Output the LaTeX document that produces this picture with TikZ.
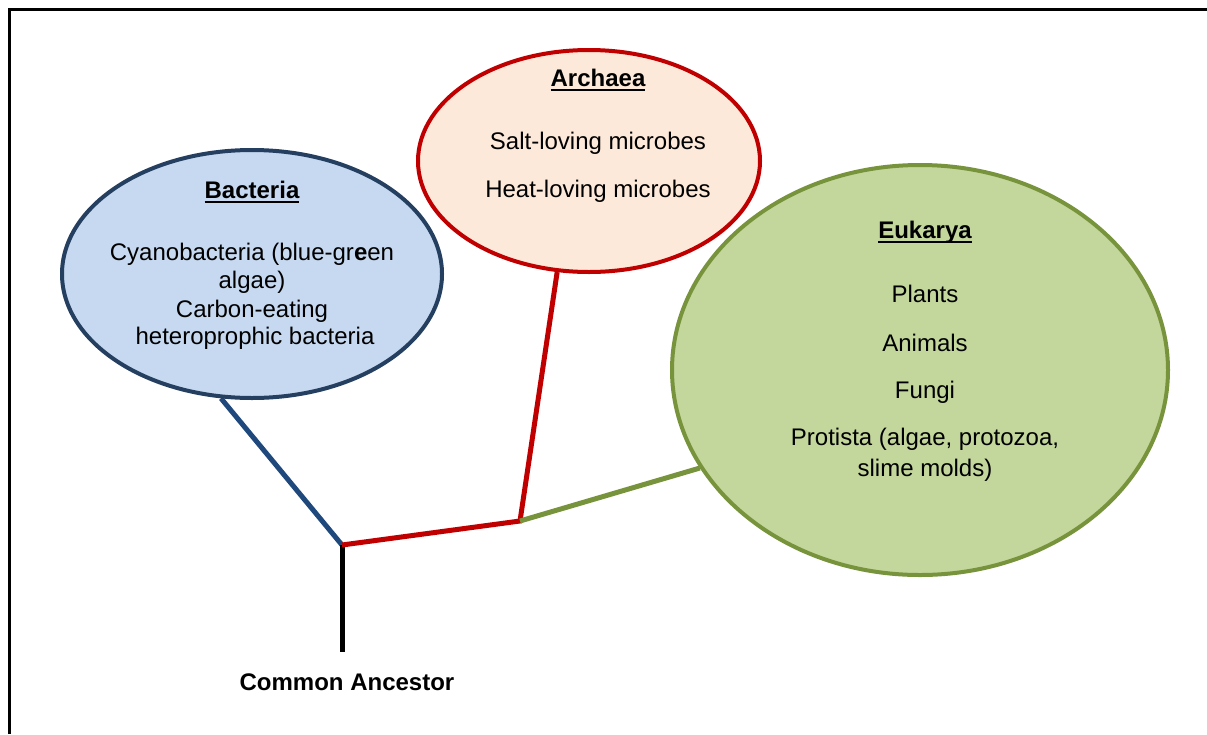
\documentclass[tikz,border=0pt]{standalone}
\usepackage{fontspec}
\setmainfont{Liberation Sans}
\usetikzlibrary{shapes.geometric,backgrounds}
\definecolor{bactfill}{HTML}{C6D9F1}
\definecolor{bactline}{HTML}{243F60}
\definecolor{bluebranch}{HTML}{1F497D}
\definecolor{archfill}{HTML}{FDE9D9}
\definecolor{archline}{HTML}{C00000}
\definecolor{eukfill}{HTML}{C3D69B}
\definecolor{eukline}{HTML}{77933C}
\newcommand\myul[1]{\setbox0\hbox{#1}\rlap{\rule[-5pt]{\wd0}{1.8pt}}\box0}
\begin{document}
\begin{tikzpicture}[x=1pt,y=-1pt,
  lifedomain/.style={ellipse, line width=4pt, inner sep=0pt},
  txt/.style={anchor=base, inner sep=0pt, font=\fontsize{24}{28}\selectfont},
  branch/.style={line width=5pt}]
\useasboundingbox (0,0) rectangle (1207,734);
\draw[line width=3pt] (9.5,734) -- (9.5,9) -- (1207,9);

\node[lifedomain, draw=bactline, fill=bactfill, minimum width=380pt, minimum height=248pt] (bact) at (252,274) {};
\node[lifedomain, draw=archline, fill=archfill, minimum width=342pt, minimum height=222pt] (arch) at (589,161) {};
\node[lifedomain, draw=eukline, fill=eukfill, minimum width=496pt, minimum height=410pt] (euk) at (920,370) {};

\coordinate (j1) at (342,545);
\coordinate (j2) at (520,521);
\coordinate (root) at (342,652);

\begin{scope}[on background layer]
\draw[branch, bluebranch] (bact.256) -- (j1);
\draw[branch, black] (j1) -- (root);
\draw[branch, archline] (j1) -- (j2) -- (arch.254);
\draw[branch, eukline] (j2) -- (euk.204);
\end{scope}

\node[txt] (bt) at (252,198) {\textbf{\myul{Bacteria}}};
\node[txt] (b1) at (252,260) {Cyanobacteria (blue-gr\textbf{e}en};
\node[txt] (b2) at (252,288) {algae)};
\node[txt] (b3) at (252,317) {Carbon-eating};
\node[txt] (b4) at (255,344) {heteroprophic bacteria};

\node[txt] (at) at (598,86) {\textbf{\myul{Archaea}}};
\node[txt] (a1) at (598,149) {Salt-loving microbes};
\node[txt] (a2) at (598,197) {Heat-loving microbes};

\node[txt] (et) at (925,238) {\textbf{\myul{Eukarya}}};
\node[txt] (e1) at (925,302) {Plants};
\node[txt] (e2) at (925,351) {Animals};
\node[txt] (e3) at (925,398) {Fungi};
\node[txt] (e4) at (925,445) {Protista (algae, protozoa,};
\node[txt] (e5) at (925,476) {slime molds)};

\node[txt] (ca) at (347,690) {\textbf{Common Ancestor}};
\end{tikzpicture}
\end{document}
